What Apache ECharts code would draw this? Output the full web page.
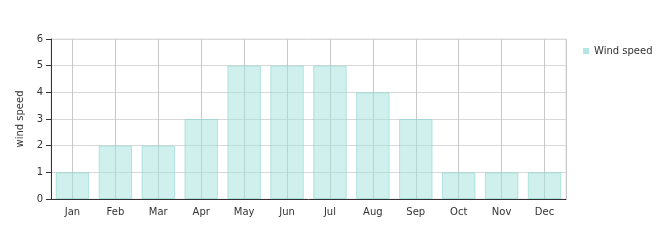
<!DOCTYPE html>
<html><head><meta charset="utf-8">
<script src="https://cdn.jsdelivr.net/npm/echarts@6/dist/echarts.min.js"></script>
<style>html,body{margin:0;padding:0;background:#fff}#c{width:670px;height:250px}</style>
</head><body><div id="c"></div>
<script>
var categories = ['Jan','Feb','Mar','Apr','May','Jun','Jul','Aug','Sep','Oct','Nov','Dec'];
var windSpeed = [1,2,2,3,5,5,5,4,3,1,1,1];
var seriesName = 'Wind speed';
var yAxisName = 'wind speed';
var font = 'DejaVu Sans';
var halfSlots = [];
categories.forEach(function(c){ halfSlots.push(c + 'a', c + 'b'); });
var chart = echarts.init(document.getElementById('c'), null, {renderer:'canvas'});
chart.setOption({
  animation:false,
  textStyle:{fontFamily:font},
  legend:{
    data:[seriesName], orient:'vertical', left:578, top:41,
    itemWidth:6, itemHeight:6, itemGap:4, icon:'rect',
    itemStyle:{borderWidth:0, color:'rgba(150,220,215,0.7)'},
    textStyle:{fontFamily:font, fontSize:10, color:'#333'}
  },
  grid:{left:51, right:104, top:39, bottom:51, containLabel:false, show:true, borderColor:'#e0e0e0', borderWidth:1},
  xAxis:[{
    type:'category', data:categories,
    axisLine:{lineStyle:{color:'#333'}},
    axisTick:{alignWithLabel:true, length:5, lineStyle:{color:'#333'}},
    axisLabel:{fontFamily:font, fontSize:10, color:'#333', margin:8},
    splitLine:{show:false}
  },{
    type:'category', data:halfSlots, position:'bottom',
    axisLine:{show:false}, axisTick:{show:false}, axisLabel:{show:false},
    splitLine:{show:true, interval:function(i){ return i % 2 === 1; }, lineStyle:{color:'#c8c8c8'}}
  }],
  yAxis:{
    type:'value', min:0, max:6, interval:1,
    name:yAxisName, nameLocation:'middle', nameGap:25,
    nameTextStyle:{fontFamily:font, fontSize:10, color:'#333'},
    axisLine:{show:true, lineStyle:{color:'#333'}},
    axisTick:{show:true, length:5, lineStyle:{color:'#333'}},
    axisLabel:{fontFamily:font, fontSize:10, color:'#333', margin:8},
    splitLine:{show:true, lineStyle:{color:'#d8d8d8'}}
  },
  series:[{
    name:seriesName, type:'bar', data:windSpeed, barCategoryGap:'22%', xAxisIndex:0,
    itemStyle:{color:'rgba(160,225,220,0.5)', borderColor:'rgba(140,215,210,0.6)', borderWidth:1}
  }]
});
</script></body></html>
